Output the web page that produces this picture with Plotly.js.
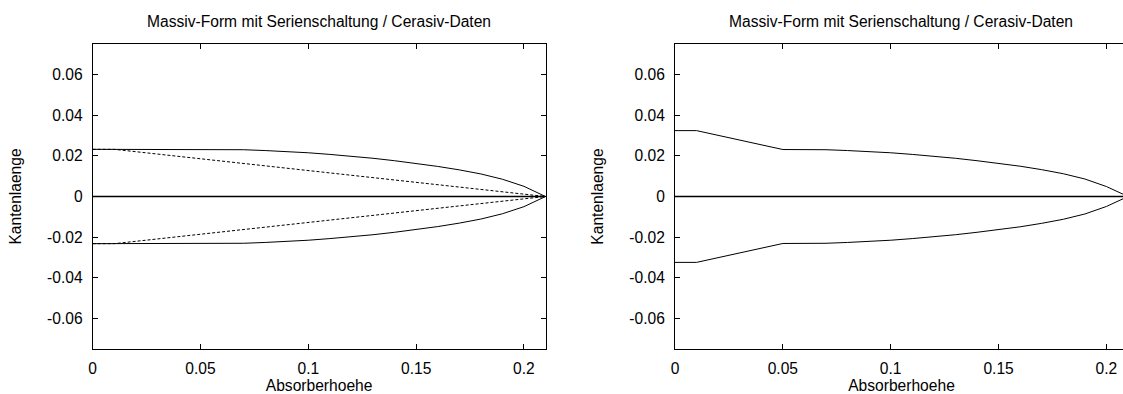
<!DOCTYPE html>
<html>
<head>
<meta charset="utf-8">
<script src="https://cdn.plot.ly/plotly-3.0.1.min.js"></script>
<style>
html,body{margin:0;padding:0;overflow:hidden;background:#fff;}
#plot{width:1128px;height:394px;}
</style>
</head>
<body>
<div id="plot"></div>
<script>
// ---- data ----
var chartTitle = "Massiv-Form mit Serienschaltung / Cerasiv-Daten";
var xTitle = "Absorberhoehe";
var yTitle = "Kantenlaenge";

// left panel: outer contour (upper half), solid
var leftX = [0, 0.01, 0.02, 0.03, 0.04, 0.05, 0.06, 0.07, 0.08, 0.09, 0.10, 0.11, 0.12, 0.13, 0.14, 0.15, 0.16, 0.17, 0.18, 0.19, 0.20, 0.21];
var leftY = [0.0232, 0.0232, 0.0232, 0.0232, 0.0232, 0.0232, 0.0232, 0.0230, 0.0226, 0.0221, 0.0215, 0.0207, 0.0198, 0.0188, 0.0176, 0.0163, 0.0148, 0.0131, 0.0111, 0.0085, 0.0050, 0.0];
var leftYneg = [-0.0232, -0.0232, -0.0232, -0.0232, -0.0232, -0.0232, -0.0232, -0.0230, -0.0226, -0.0221, -0.0215, -0.0207, -0.0198, -0.0188, -0.0176, -0.0163, -0.0148, -0.0131, -0.0111, -0.0085, -0.0050, 0.0];

// left panel: dashed contour
var dashX = [0, 0.01, 0.21];
var dashY = [0.0232, 0.0232, 0.0];
var dashYneg = [-0.0232, -0.0232, 0.0];

// centre line
var axisX = [0, 0.21];
var axisY = [0, 0];

// right panel: outer contour
var rightX = [0, 0.01, 0.05, 0.06, 0.07, 0.08, 0.09, 0.10, 0.11, 0.12, 0.13, 0.14, 0.15, 0.16, 0.17, 0.18, 0.19, 0.20, 0.21];
var rightY = [0.0324, 0.0324, 0.0231, 0.0231, 0.0230, 0.0226, 0.0221, 0.0215, 0.0207, 0.0198, 0.0188, 0.0176, 0.0164, 0.0149, 0.0132, 0.0112, 0.0086, 0.0049, 0.0];
var rightYneg = [-0.0324, -0.0324, -0.0231, -0.0231, -0.0230, -0.0226, -0.0221, -0.0215, -0.0207, -0.0198, -0.0188, -0.0176, -0.0164, -0.0149, -0.0132, -0.0112, -0.0086, -0.0049, 0.0];

var xTicks = [0, 0.05, 0.1, 0.15, 0.2];
var xTickText = ["0", "0.05", "0.1", "0.15", "0.2"];
var yTicks = [-0.06, -0.04, -0.02, 0, 0.02, 0.04, 0.06];
var yTickText = ["-0.06", "-0.04", "-0.02", "0", "0.02", "0.04", "0.06"];

// ---- traces ----
var solid = {color: "#000", width: 1};
var dashed = {color: "#000", width: 1, dash: "3px,2px"};
function tr(x, y, line, xa, ya) {
  return {x: x, y: y, type: "scatter", mode: "lines", line: line, xaxis: xa, yaxis: ya, hoverinfo: "skip", showlegend: false};
}
var data = [
  tr(leftX, leftY, solid, "x", "y"),
  tr(leftX, leftYneg, solid, "x", "y"),
  tr(dashX, dashY, dashed, "x", "y"),
  tr(dashX, dashYneg, dashed, "x", "y"),
  tr(axisX, axisY, {color: "#000", width: 1.3}, "x", "y"),
  tr(rightX, rightY, solid, "x2", "y2"),
  tr(rightX, rightYneg, solid, "x2", "y2"),
  tr(axisX, axisY, {color: "#000", width: 1.3}, "x2", "y2")
];

var W = 1128, H = 394;
var font = {family: "Liberation Sans, Arial, Helvetica, sans-serif", size: 15.6, color: "#000"};

function xax(domain, anchor) {
  return {
    domain: domain, anchor: anchor, range: [0, 0.21], autorange: false,
    tickmode: "array", tickvals: xTicks, ticktext: xTickText,
    ticks: "inside", ticklen: 5, tickwidth: 1, tickcolor: "#000",
    showline: true, linecolor: "#000", linewidth: 1, mirror: "allticks",
    showgrid: false, zeroline: false,
    tickfont: font, ticklabelstandoff: 5,
    title: {text: xTitle, font: font, standoff: 3}
  };
}
function yax(domain, anchor, mirror) {
  return {
    domain: domain, anchor: anchor, range: [-0.075, 0.075], autorange: false,
    tickmode: "array", tickvals: yTicks, ticktext: yTickText,
    ticks: "inside", ticklen: 5, tickwidth: 1, tickcolor: "#000",
    showline: true, linecolor: "#000", linewidth: 1, mirror: mirror,
    showgrid: false, zeroline: false,
    tickfont: font, ticklabelstandoff: 6,
    title: {text: yTitle, font: font, standoff: 21}
  };
}

var yDom = [1 - 349 / H, 1 - 44 / H];
var layout = {
  width: W, height: H,
  margin: {l: 0, r: 0, t: 0, b: 0, pad: 0},
  paper_bgcolor: "#fff", plot_bgcolor: "#fff",
  font: font,
  showlegend: false,
  xaxis: xax([92.7 / W, 545.5 / W], "y"),
  yaxis: yax(yDom, "x", "allticks"),
  xaxis2: xax([675 / W, 1], "y2"),
  yaxis2: yax(yDom, "x2", "allticks"),
  annotations: [
    {text: chartTitle, xref: "paper", yref: "paper", x: 319 / W, y: 1 - 21.5 / H, xanchor: "center", yanchor: "middle", showarrow: false, font: font},
    {text: chartTitle, xref: "paper", yref: "paper", x: 901 / W, y: 1 - 21.5 / H, xanchor: "center", yanchor: "middle", showarrow: false, font: font}
  ]
};

Plotly.newPlot("plot", data, layout, {staticPlot: true, displayModeBar: false});
</script>
</body>
</html>
